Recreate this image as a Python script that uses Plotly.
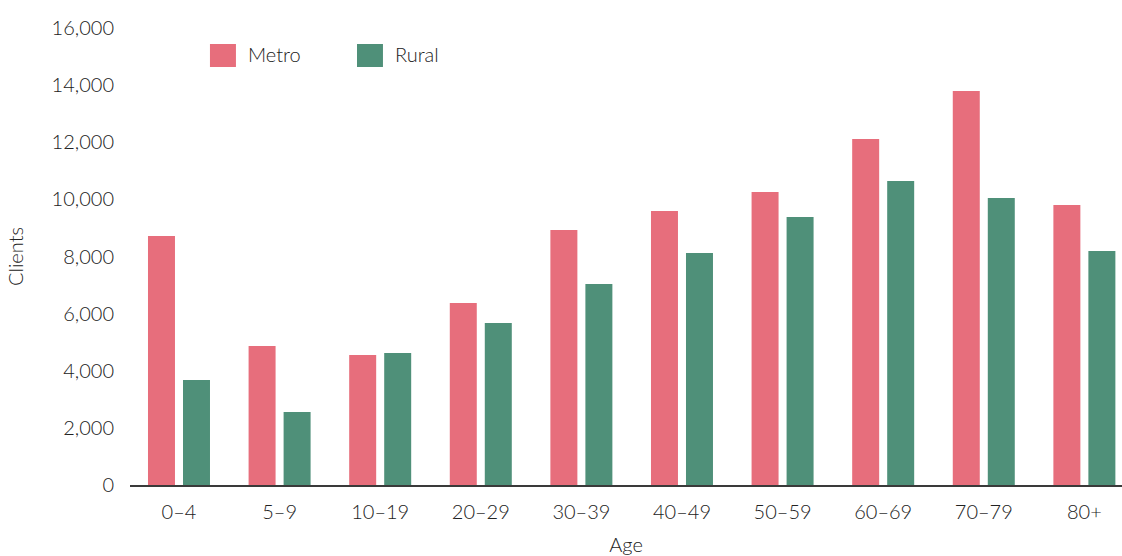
import plotly.graph_objects as go

# Client counts by age band
age_bands = ["0–4", "5–9", "10–19", "20–29", "30–39", "40–49",
             "50–59", "60–69", "70–79", "80+"]
metro = [8715, 4865, 4550, 6370, 8925, 9590, 10255, 12110, 13790, 9800]
rural = [3675, 2555, 4620, 5670, 7035, 8120, 9380, 10640, 10045, 8190]
y_ticks = [0, 2000, 4000, 6000, 8000, 10000, 12000, 14000, 16000]

METRO_COLOR = "#E76E7C"
RURAL_COLOR = "#4F9079"
TEXT_COLOR = "#222222"
FONT = "Lato, 'Open Sans', sans-serif"
WEIGHT = 300
SIZE = 20

fig = go.Figure()
fig.add_trace(go.Bar(name="Metro", x=age_bands, y=metro,
                     marker=dict(color=METRO_COLOR, line=dict(width=0)),
                     showlegend=False))
fig.add_trace(go.Bar(name="Rural", x=age_bands, y=rural,
                     marker=dict(color=RURAL_COLOR, line=dict(width=0)),
                     showlegend=False))

# Legend drawn as square swatches with labels
legend_items = [("Metro", METRO_COLOR, 0.0806), ("Rural", RURAL_COLOR, 0.2288)]
for label, color, x0 in legend_items:
    fig.add_shape(type="rect", xref="paper", yref="paper",
                  x0=x0, x1=x0 + 0.0262, y0=0.9147, y1=0.965,
                  fillcolor=color, line=dict(width=0))
    fig.add_annotation(xref="paper", yref="paper", x=x0 + 0.0363, y=0.9430,
                       text=label, showarrow=False, xanchor="left",
                       yanchor="middle",
                       font=dict(family=FONT, size=SIZE, weight=WEIGHT,
                                 color=TEXT_COLOR))

axis_font = dict(family=FONT, size=SIZE, weight=WEIGHT, color=TEXT_COLOR)

fig.update_layout(
    width=1122, height=556,
    margin=dict(l=130, r=0, t=28, b=71),
    paper_bgcolor="white", plot_bgcolor="white",
    barmode="group", bargap=0.304, bargroupgap=0.229,
    font=axis_font,
    xaxis=dict(
        type="category", range=[-0.487, 9.374],
        showline=True, linecolor="#3a3a3a", linewidth=1.5,
        showgrid=False, ticks="", ticklabelstandoff=8,
        tickfont=axis_font,
        title=dict(text="Age", standoff=16, font=axis_font),
    ),
    yaxis=dict(
        range=[0, 16000], tickvals=y_ticks, tickformat=",d",
        showline=False, showgrid=False, zeroline=False,
        ticks="", ticklabelstandoff=15,
        tickfont=axis_font,
        title=dict(text="Clients", standoff=22, font=axis_font),
    ),
)

fig.write_html("out.html")
